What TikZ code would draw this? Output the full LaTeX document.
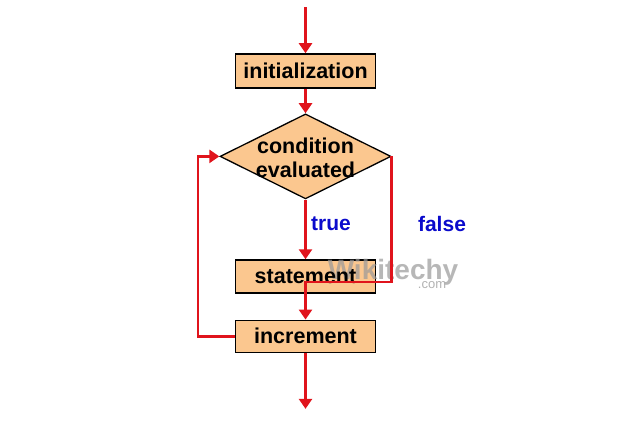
\documentclass[tikz,border=0pt]{standalone}
\usepackage{fontspec}
\setmainfont{Liberation Sans}
\usepackage{tikz}
\usetikzlibrary{matrix,arrows.meta,shapes.geometric,positioning}

\definecolor{boxfill}{HTML}{FBC78F}
\definecolor{flowred}{HTML}{E0141C}
\definecolor{labelblue}{HTML}{0A0ACC}

\tikzset{
	flowbox/.style={rectangle, draw=black, line width=1.3pt, fill=boxfill, minimum width=140pt, inner sep=0pt},
	decision/.style={diamond, draw=black, line width=1.3pt, fill=boxfill, aspect=2, minimum width=171pt, minimum height=85pt, inner sep=0pt},
	boxtext/.style={font=\fontsize{21.5}{24}\selectfont\bfseries},
	flow/.style={color=flowred, line width=2.8pt, -{Triangle[width=13pt,length=10pt]}},
	branch/.style={text=labelblue, font=\fontsize{21}{24}\selectfont\bfseries}
}

\begin{document}
\begin{tikzpicture}[x=1pt, y=-1pt]
\useasboundingbox (0,0) rectangle (617,445);
\matrix (m) [matrix of nodes, anchor=north, inner sep=0pt, row sep=0pt] at (305.5,53)
{
	|[flowbox, boxtext, minimum height=34pt]| initialization \\[25pt]
	|[decision]| {} \\[60pt]
	|[flowbox, minimum height=33pt]| {} \\[26pt]
	|[flowbox, boxtext, minimum height=32pt]| increment \\
};
\node[boxtext, align=center] (condtext) at ([yshift=-1.5pt]m-2-1) {condition\\evaluated};

\node[text=black!40, font=\fontsize{28}{30}\selectfont\bfseries, opacity=.7] (mark) at (393,272) {Wikitechy};
\node[text=black!30, font=\fontsize{13}{14}\selectfont] (markcom) at (432,285) {.com};
\node[boxtext] (statementtext) at (m-3-1) {statement};

\node[branch] (truetext) at (331,224) {true};
\node[branch] (falsetext) at (442,224) {false};

\coordinate[above=46pt of m-1-1.north] (begin);
\coordinate[below=56pt of m-4-1.south] (finish);
\coordinate (merge) at (305.5,282);
\coordinate (back) at (198,250);

\path[flow]
(begin) edge (m-1-1)
(m-1-1) edge (m-2-1)
(m-2-1) edge (m-3-1)
(m-4-1) edge (finish)
;
\draw[flow] (m-2-1.east) |- (merge) -- (m-4-1.north);
\draw[flow] (m-4-1.west) -| (back) |- (m-2-1.west);
\end{tikzpicture}
\end{document}
